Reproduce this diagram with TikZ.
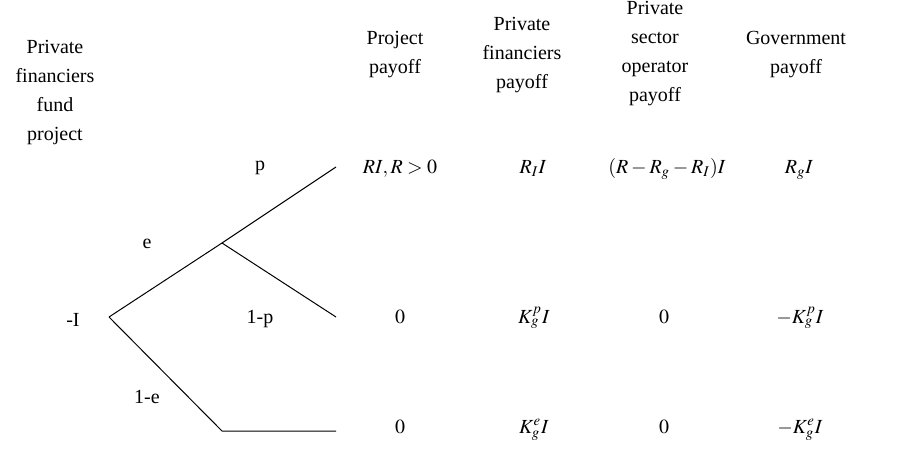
\documentclass[tikz,border=0pt]{standalone}
\usepackage{mathptmx}
\usepackage{fontspec}
\setmainfont{Liberation Serif}
\usetikzlibrary{positioning}

\begin{document}
\begin{tikzpicture}[
    x=0.5pt, y=-0.5pt,
    header/.style={align=center, inner sep=0pt, font=\fontsize{10}{14.5}\selectfont},
    payoff/.style={anchor=base, inner sep=0pt, font=\fontsize{10}{12}\selectfont},
    prob/.style={anchor=base, inner sep=0pt, font=\fontsize{10}{12}\selectfont},
    branch/.style={line width=0.5pt}
]
\useasboundingbox (0,0) rectangle (922,450);

% Headers
\node[header] (hfund) at (55,93) {Private\\financiers\\fund\\project};
\node[header] (hproj) at (395,55) {Project\\payoff};
\node[header] (hfin) at (522,55) {Private\\financiers\\payoff};
\node[header] (hop) at (655,54) {Private\\sector\\operator\\payoff};
\node[header] (hgov) at (796,55) {Government\\payoff};

% Tree
\coordinate (root) at (109,317);
\coordinate (chance) at (222,243);
\coordinate (succ) at (336,167);
\coordinate (fail) at (336,317);
\coordinate (bend) at (222,431);
\coordinate (noeff) at (336,431);

\draw[branch] (root) -- (chance) -- (succ);
\draw[branch] (chance) -- (fail);
\draw[branch] (root) -- (bend) -- (noeff);

% Probabilities
\node[prob] (cost) at (73,326) {-I};
\node[prob] (pe) at (147,248) {e};
\node[prob] (pp) at (260,170) {p};
\node[prob] (pq) at (260,323) {1-p};
\node[prob] (pne) at (147,403) {1-e};

% Payoffs
\node[payoff] (pr1) at (400,173) {$RI, R>0$};
\node[payoff] (pf1) at (533,173) {$R_I I$};
\node[payoff] (op1) at (667,173) {$(R-R_g-R_I)I$};
\node[payoff] (gv1) at (799,173) {$R_g I$};

\node[payoff] (pr2) at (400,323) {$0$};
\node[payoff] (pf2) at (534,323) {$K_g^p I$};
\node[payoff] (op2) at (664,323) {$0$};
\node[payoff] (gv2) at (800,323) {$-K_g^p I$};

\node[payoff] (pr3) at (400,433) {$0$};
\node[payoff] (pf3) at (534,433) {$K_g^e I$};
\node[payoff] (op3) at (664,433) {$0$};
\node[payoff] (gv3) at (800,433) {$-K_g^e I$};

\end{tikzpicture}
\end{document}
